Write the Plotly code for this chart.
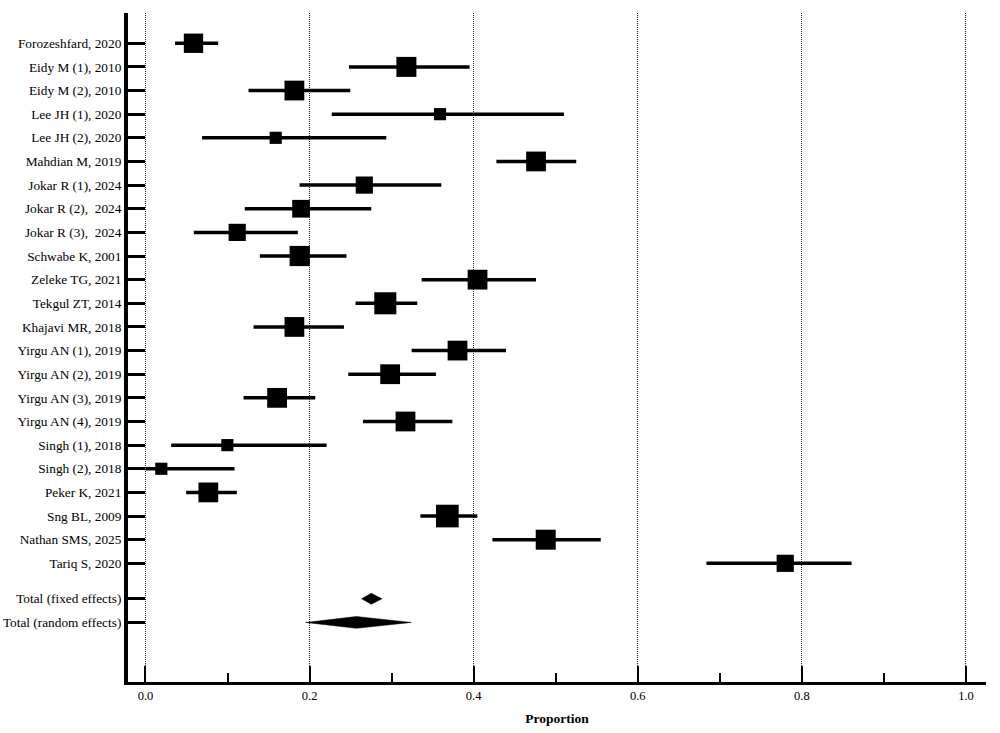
import plotly.graph_objects as go

# ---------------- data ----------------
studies = [
    "Forozeshfard, 2020", "Eidy M (1), 2010", "Eidy M (2), 2010",
    "Lee JH (1), 2020", "Lee JH (2), 2020", "Mahdian M, 2019",
    "Jokar R (1), 2024", "Jokar R (2),\u00a0 2024", "Jokar R (3),\u00a0 2024",
    "Schwabe K, 2001", "Zeleke TG, 2021", "Tekgul ZT, 2014",
    "Khajavi MR, 2018", "Yirgu AN (1), 2019", "Yirgu AN (2), 2019",
    "Yirgu AN (3), 2019", "Yirgu AN (4), 2019", "Singh (1), 2018",
    "Singh (2), 2018", "Peker K, 2021", "Sng BL, 2009",
    "Nathan SMS, 2025", "Tariq S, 2020",
]
proportion = [0.0585, 0.318, 0.1815, 0.359, 0.1587, 0.476, 0.2667, 0.1896, 0.1118,
              0.188, 0.4047, 0.2923, 0.1815, 0.3803, 0.2982, 0.1604, 0.3169, 0.0998,
              0.0193, 0.0766, 0.3679, 0.4878, 0.7797]
ci_low = [0.036, 0.248, 0.1256, 0.227, 0.069, 0.4277, 0.1878, 0.121, 0.0589,
          0.1394, 0.3366, 0.256, 0.1317, 0.3244, 0.2472, 0.1195, 0.265, 0.0313,
          0.0, 0.0496, 0.335, 0.4228, 0.6837]
ci_high = [0.0886, 0.395, 0.2496, 0.51, 0.2935, 0.525, 0.3606, 0.2752, 0.1857,
           0.245, 0.476, 0.3313, 0.2419, 0.4394, 0.354, 0.2069, 0.374, 0.2207,
           0.1085, 0.1114, 0.4045, 0.5549, 0.8606]
weights = [4.3, 4.6, 4.5, 1.7, 1.7, 4.5, 3.4, 3.6, 3.4, 4.7, 4.5, 5.6, 4.5, 4.5,
           4.5, 4.5, 4.5, 1.7, 1.7, 4.5, 5.9, 4.6, 3.4]

pooled_labels = ["Total (fixed effects)", "Total (random effects)"]
pooled_est = [0.2752, 0.257]
pooled_low = [0.2634, 0.1951]
pooled_high = [0.2882, 0.324]

x_ticks = [0.0, 0.2, 0.4, 0.6, 0.8, 1.0]
x_title = "Proportion"

# ---------------- layout helpers ----------------
FONT = "Liberation Serif"
n = len(studies)
study_pos = list(range(n))
pooled_pos = [n + 0.5, n + 1.5]
sizes = [20 * (w / 4.6) ** 0.5 for w in weights]

fig = go.Figure()

# whiskers
wx, wy = [], []
for p, lo, hi in zip(study_pos, ci_low, ci_high):
    wx += [lo, hi, None]
    wy += [p, p, None]
fig.add_trace(go.Scatter(x=wx, y=wy, mode="lines",
                         line=dict(color="black", width=3.5),
                         hoverinfo="skip", showlegend=False))

# boxes
fig.add_trace(go.Scatter(x=proportion, y=study_pos, mode="markers",
                         marker=dict(symbol="square", size=sizes, color="black",
                                     opacity=1, line=dict(width=0)),
                         showlegend=False))

# diamonds
half_h = [0.23, 0.25]
for p, est, lo, hi, h in zip(pooled_pos, pooled_est, pooled_low, pooled_high, half_h):
    fig.add_trace(go.Scatter(x=[lo, est, hi, est, lo], y=[p, p - h, p, p + h, p],
                             mode="lines", fill="toself", fillcolor="black",
                             line=dict(color="black", width=0.5),
                             showlegend=False, hoverinfo="skip"))

fig.update_layout(
    width=1000, height=733,
    margin=dict(l=128, r=14, t=13, b=51),
    paper_bgcolor="white", plot_bgcolor="white",
    font=dict(family=FONT, color="black", size=13),
    showlegend=False,
)

fig.update_xaxes(
    range=[-0.0213, 1.0244],
    automargin=False,
    tickvals=x_ticks, tickformat=".1f",
    ticks="inside", ticklen=16, tickwidth=2, tickcolor="black",
    showline=True, linewidth=3, linecolor="black",
    showgrid=True, gridcolor="#222", griddash="1px,1px", gridwidth=1,
    zeroline=False,
    tickfont=dict(family=FONT, size=12.5, color="black"),
    minor=dict(dtick=0.1, tick0=0, ticks="inside", ticklen=9, tickwidth=2,
               tickcolor="black", showgrid=False),
    title=dict(text="<b>" + x_title + "</b>", font=dict(family=FONT, size=13.5),
               standoff=12),
)

fig.update_yaxes(
    range=[27.02, -1.28],
    automargin=False,
    tickvals=study_pos + pooled_pos, ticktext=studies + pooled_labels,
    ticks="inside", ticklen=17, tickwidth=3, tickcolor="black",
    showline=True, linewidth=4, linecolor="black",
    showgrid=False, zeroline=False,
    tickfont=dict(family=FONT, size=13.3, color="black"),
)

fig.write_html("out.html")
